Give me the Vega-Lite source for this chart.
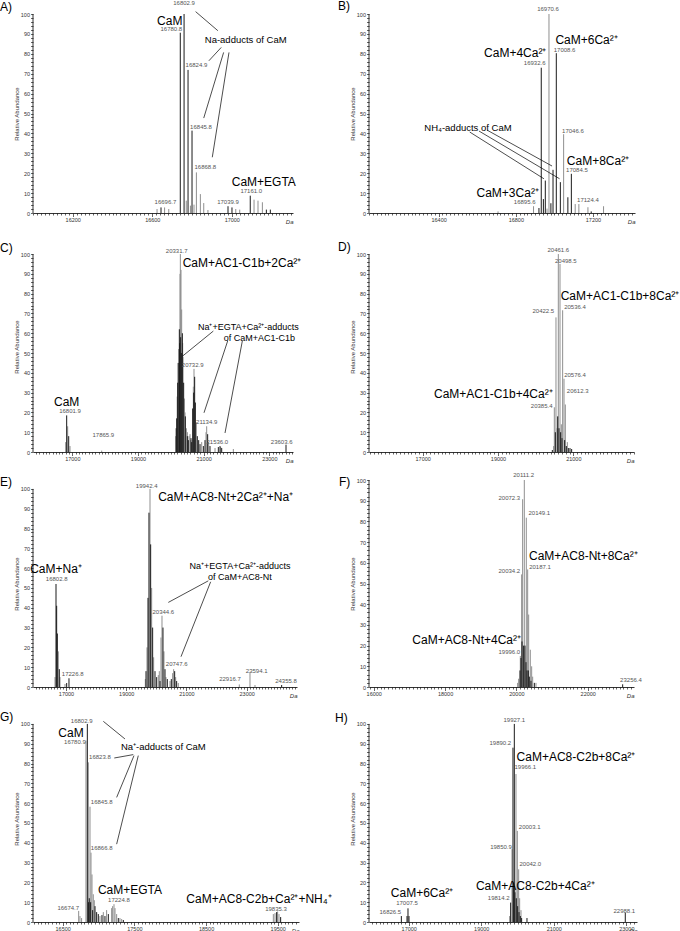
{
  "$schema": "https://vega.github.io/schema/vega-lite/v6.json",
  "padding": 0,
  "background": "white",
  "columns": 2,
  "bounds": "flush",
  "align": "each",
  "spacing": {"row": 28, "column": 70},
  "config": {
    "view": {"stroke": null},
    "axis": {"grid": false, "tickSize": 2.5, "labelFontSize": 5.5, "labelPadding": 1, "labelOverlap": false, "labelFlush": false, "labelColor": "#333", "labelFont": "Liberation Sans", "titleFont": "Liberation Sans", "titleFontSize": 6, "titleFontWeight": "normal", "titleColor": "#333", "tickColor": "#000", "tickWidth": 0.6, "domainColor": "#000", "domainWidth": 0.8},
    "axisY": {"titleX": -17, "titleBaseline": "middle", "domain": false, "tickCount": 50, "labelExpr": "datum.value % 10 === 0 && datum.value <= 100 ? datum.label : ''", "tickOpacity": {"condition": {"test": "datum.value > 100", "value": 0}, "value": 1}},
    "axisX": {"titleFontStyle": "italic", "titleAnchor": "end", "titleAlign": "right", "titleY": 8, "titleBaseline": "middle"},
    "text": {"font": "Liberation Sans"}
  },
  "concat": [
    {
      "width": 260, "height": 199,
      "layer": [
        {"data": {"values": [{"m":16624,"i":2.0,"s":"b"},{"m":16662,"i":2.8,"s":"b"},{"m":16683,"i":2.0,"s":"b"},{"m":16771,"i":6.2,"s":"b"},{"m":16792,"i":3.7,"s":"b"},{"m":16810,"i":4.2,"s":"b"},{"m":16822,"i":20.4,"s":"b"},{"m":16842,"i":9.5,"s":"b"},{"m":16859,"i":5.0,"s":"b"},{"m":16880,"i":1.5,"s":"b"},{"m":17020,"i":2.0,"s":"b"},{"m":17040,"i":1.7,"s":"b"},{"m":17112,"i":6.7,"s":"b"},{"m":17132,"i":6.2,"s":"b"},{"m":17154,"i":5.4,"s":"b"},{"m":16644,"i":2.8,"s":"a"},{"m":16741,"i":90.6,"s":"a"},{"m":16760,"i":100,"s":"a"},{"m":16780,"i":71.9,"s":"a"},{"m":16800,"i":41.4,"s":"a"},{"m":16981,"i":3.4,"s":"a"},{"m":17001,"i":2.8,"s":"a"},{"m":17093,"i":8.7,"s":"a"},{"m":17174,"i":1.7,"s":"a"},{"m":17194,"i":1.7,"s":"a"}]},
         "mark": {"type": "rule", "strokeWidth": 1},
         "encoding": {
           "x": {"field": "m", "type": "quantitative", "scale": {"domain": [16000, 17308], "nice": false, "zero": false},
                 "axis": {"title": "Da", "format": "d", "tickCount": 65, "labelExpr": "(datum.value - 16200) % 400 === 0 ? datum.label : ''", "tickSize": {"condition": {"test": "(datum.value - 16200) % 400 === 0", "value": 3.5}, "value": 2}}},
           "y": {"field": "i", "type": "quantitative", "scale": {"domain": [0, 100], "nice": false}, "axis": {"title": "Relative Abundance"}},
           "y2": {"datum": 0},
           "color": {"field": "s", "type": "nominal", "scale": {"domain": ["a", "b"], "range": ["#1a1a1a", "#8f8f8f"]}, "legend": null}
         }},
        {"data": {"values": [{}]}, "mark": {"type": "rule", "color": "#000", "strokeWidth": 0.8}, "encoding": {"x": {"datum": 16000, "type": "quantitative"}, "y": {"datum": 0, "type": "quantitative"}, "y2": {"datum": 100}}},
        {"data": {"values": [{"t": "A)"}]}, "mark": {"type": "text", "fontSize": 12, "align": "left", "baseline": "middle", "dx": -33, "color": "#000"}, "encoding": {"x": {"datum": 16000, "type": "quantitative"}, "y": {"datum": 103.5, "type": "quantitative"}, "text": {"field": "t"}}},
        {"data": {"values": [{"m":16760,"i":105.4,"t":"16802.9"},{"m":16696,"i":92.5,"t":"16780.8"},{"m":16822,"i":74.4,"t":"16824.9"},{"m":16845,"i":43.4,"t":"16845.8"},{"m":16867,"i":22.9,"t":"16868.8"},{"m":16666,"i":5.4,"t":"16696.7"},{"m":16981,"i":5.4,"t":"17039.9"},{"m":17098,"i":11.2,"t":"17161.0"}]},
         "mark": {"type": "text", "fontSize": 6, "color": "#555", "baseline": "middle"},
         "encoding": {"x": {"field": "m", "type": "quantitative"}, "y": {"field": "i", "type": "quantitative"}, "text": {"field": "t"}}},
        {"data": {"values": [{"m":16688,"i":96.6,"t":"CaM"},{"m":17161,"i":15.6,"t":"CaM+EGTA"}]},
         "mark": {"type": "text", "fontSize": 12, "color": "#000", "baseline": "middle"},
         "encoding": {"x": {"field": "m", "type": "quantitative"}, "y": {"field": "i", "type": "quantitative"}, "text": {"field": "t"}}},
        {"data": {"values": [{"m":17070,"i":86.9,"t":"Na-adducts of CaM"}]},
         "mark": {"type": "text", "fontSize": 9.5, "color": "#000", "baseline": "middle"},
         "encoding": {"x": {"field": "m", "type": "quantitative"}, "y": {"field": "i", "type": "quantitative"}, "text": {"field": "t"}}},
        {"data": {"values": [{"m":16818,"i":101.2,"m2":16930,"i2":91.6},{"m":16947,"i":83.2,"m2":16885,"i2":76.5},{"m":16959,"i":80.7,"m2":16859,"i2":47.7},{"m":16986,"i":80.7,"m2":16902,"i2":28}]},
         "mark": {"type": "rule", "color": "#000", "strokeWidth": 0.7},
         "encoding": {"x": {"field": "m", "type": "quantitative"}, "y": {"field": "i", "type": "quantitative"}, "x2": {"field": "m2"}, "y2": {"field": "i2"}}}
      ]
    },
    {
      "width": 266, "height": 199,
      "layer": [
        {"data": {"values": [{"m":16708,"i":0.8,"s":"b"},{"m":16892,"i":3.4,"s":"b"},{"m":16962,"i":2.2,"s":"b"},{"m":16972,"i":100,"s":"b"},{"m":17048,"i":39.6,"s":"b"},{"m":17108,"i":4.5,"s":"b"},{"m":17127,"i":4.5,"s":"b"},{"m":17174,"i":2.9,"s":"b"},{"m":17255,"i":3.4,"s":"b"},{"m":16920,"i":2.5,"s":"a"},{"m":16932,"i":73,"s":"a"},{"m":16943,"i":7,"s":"a"},{"m":16953,"i":16.3,"s":"a"},{"m":16982,"i":4.9,"s":"a"},{"m":16993,"i":21.7,"s":"a"},{"m":17010,"i":80.3,"s":"a"},{"m":17031,"i":15.5,"s":"a"},{"m":17070,"i":7.9,"s":"a"},{"m":17088,"i":19.7,"s":"a"},{"m":17191,"i":0.8,"s":"a"}]},
         "mark": {"type": "rule", "strokeWidth": 1},
         "encoding": {
           "x": {"field": "m", "type": "quantitative", "scale": {"domain": [16039, 17418], "nice": false, "zero": false},
                 "axis": {"title": "Da", "format": "d", "tickCount": 69, "labelExpr": "(datum.value - 16400) % 400 === 0 ? datum.label : ''", "tickSize": {"condition": {"test": "(datum.value - 16400) % 400 === 0", "value": 3.5}, "value": 2}}},
           "y": {"field": "i", "type": "quantitative", "scale": {"domain": [0, 100], "nice": false}, "axis": {"title": "Relative Abundance"}},
           "y2": {"datum": 0},
           "color": {"field": "s", "type": "nominal", "scale": {"domain": ["a", "b"], "range": ["#1a1a1a", "#8f8f8f"]}, "legend": null}
         }},
        {"data": {"values": [{}]}, "mark": {"type": "rule", "color": "#000", "strokeWidth": 0.8}, "encoding": {"x": {"datum": 16039, "type": "quantitative"}, "y": {"datum": 0, "type": "quantitative"}, "y2": {"datum": 100}}},
        {"data": {"values": [{"t": "B)"}]}, "mark": {"type": "text", "fontSize": 12, "align": "left", "baseline": "middle", "dx": -31, "color": "#000"}, "encoding": {"x": {"datum": 16039, "type": "quantitative"}, "y": {"datum": 104, "type": "quantitative"}, "text": {"field": "t"}}},
        {"data": {"values": [{"m":16967,"i":102.5,"t":"16970.6"},{"m":17053,"i":82,"t":"17008.6"},{"m":16898,"i":75.3,"t":"16932.6"},{"m":17096,"i":41.2,"t":"17046.6"},{"m":17117,"i":21.4,"t":"17084.5"},{"m":17174,"i":6.7,"t":"17124.4"},{"m":16846,"i":5.7,"t":"16895.6"}]},
         "mark": {"type": "text", "fontSize": 6, "color": "#555", "baseline": "middle"},
         "encoding": {"x": {"field": "m", "type": "quantitative"}, "y": {"field": "i", "type": "quantitative"}, "text": {"field": "t"}}},
        {"data": {"values": [{"m":17167,"i":87,"t":"CaM+6Ca²⁺"},{"m":16797,"i":80.3,"t":"CaM+4Ca²⁺"},{"m":17226,"i":25.9,"t":"CaM+8Ca²⁺"},{"m":16758,"i":9.9,"t":"CaM+3Ca²⁺"}]},
         "mark": {"type": "text", "fontSize": 12, "color": "#000", "baseline": "middle"},
         "encoding": {"x": {"field": "m", "type": "quantitative"}, "y": {"field": "i", "type": "quantitative"}, "text": {"field": "t"}}},
        {"data": {"values": [{"m":16552,"i":42.8,"t":"NH₄-adducts of CaM"}]},
         "mark": {"type": "text", "fontSize": 9.5, "color": "#000", "baseline": "middle"},
         "encoding": {"x": {"field": "m", "type": "quantitative"}, "y": {"field": "i", "type": "quantitative"}, "text": {"field": "t"}}},
        {"data": {"values": [{"m":16561,"i":40.7,"m2":16946,"i2":17.2},{"m":16609,"i":41.2,"m2":17027,"i2":17.2},{"m":16652,"i":41.6,"m2":16988,"i2":23.6}]},
         "mark": {"type": "rule", "color": "#000", "strokeWidth": 0.7},
         "encoding": {"x": {"field": "m", "type": "quantitative"}, "y": {"field": "i", "type": "quantitative"}, "x2": {"field": "m2"}, "y2": {"field": "i2"}}}
      ]
    },
    {
      "width": 260, "height": 211,
      "layer": [
        {"data": {"values": [{"m":16798,"i":5,"s":"b"},{"m":16859,"i":13,"s":"b"},{"m":16930,"i":3,"s":"b"},{"m":17895,"i":0.7,"s":"b"},{"m":20149,"i":8,"s":"b"},{"m":20195,"i":28,"s":"b"},{"m":20240,"i":52,"s":"b"},{"m":20281,"i":90,"s":"b"},{"m":20291,"i":100,"s":"b"},{"m":20311,"i":92,"s":"b"},{"m":20331,"i":72,"s":"b"},{"m":20362,"i":55,"s":"b"},{"m":20372,"i":48,"s":"b"},{"m":20413,"i":27,"s":"b"},{"m":20433,"i":20,"s":"b"},{"m":20474,"i":12,"s":"b"},{"m":20504,"i":10,"s":"b"},{"m":20555,"i":8,"s":"b"},{"m":20585,"i":9,"s":"b"},{"m":20605,"i":6,"s":"b"},{"m":20687,"i":33,"s":"b"},{"m":20707,"i":42,"s":"b"},{"m":20778,"i":15,"s":"b"},{"m":20941,"i":5,"s":"b"},{"m":21073,"i":10,"s":"b"},{"m":21093,"i":13,"s":"b"},{"m":21154,"i":5,"s":"b"},{"m":21347,"i":2,"s":"b"},{"m":21519,"i":2.5,"s":"b"},{"m":21905,"i":1.5,"s":"b"},{"m":16829,"i":18.5,"s":"a"},{"m":16890,"i":8,"s":"a"},{"m":20164,"i":12,"s":"a"},{"m":20179,"i":17,"s":"a"},{"m":20210,"i":35,"s":"a"},{"m":20225,"i":45,"s":"a"},{"m":20260,"i":62,"s":"a"},{"m":20270,"i":55,"s":"a"},{"m":20301,"i":58,"s":"a"},{"m":20321,"i":50,"s":"a"},{"m":20352,"i":60,"s":"a"},{"m":20392,"i":35,"s":"a"},{"m":20443,"i":18,"s":"a"},{"m":20504,"i":8,"s":"a"},{"m":20534,"i":6,"s":"a"},{"m":20615,"i":7,"s":"a"},{"m":20636,"i":5,"s":"a"},{"m":20666,"i":22,"s":"a"},{"m":20697,"i":30,"s":"a"},{"m":20727,"i":38,"s":"a"},{"m":20748,"i":25,"s":"a"},{"m":20808,"i":8,"s":"a"},{"m":20849,"i":6,"s":"a"},{"m":20890,"i":4,"s":"a"},{"m":20991,"i":3,"s":"a"},{"m":21042,"i":6,"s":"a"},{"m":21123,"i":9,"s":"a"},{"m":21194,"i":3,"s":"a"},{"m":21448,"i":2.5,"s":"a"},{"m":21499,"i":3,"s":"a"},{"m":21550,"i":2,"s":"a"},{"m":23509,"i":3.7,"s":"a"}]},
         "mark": {"type": "rule", "strokeWidth": 1},
         "encoding": {
           "x": {"field": "m", "type": "quantitative", "scale": {"domain": [15803, 23722], "nice": false, "zero": false},
                 "axis": {"title": "Da", "format": "d", "tickCount": 80, "labelExpr": "(datum.value - 17000) % 2000 === 0 ? datum.label : ''", "tickSize": {"condition": {"test": "(datum.value - 17000) % 2000 === 0", "value": 3.5}, "value": 2}}},
           "y": {"field": "i", "type": "quantitative", "scale": {"domain": [0, 106.6], "nice": false}, "axis": {"title": "Relative Abundance"}},
           "y2": {"datum": 0},
           "color": {"field": "s", "type": "nominal", "scale": {"domain": ["a", "b"], "range": ["#1a1a1a", "#8f8f8f"]}, "legend": null}
         }},
        {"data": {"values": [{}]}, "mark": {"type": "rule", "color": "#000", "strokeWidth": 0.8}, "encoding": {"x": {"datum": 15803, "type": "quantitative"}, "y": {"datum": 0, "type": "quantitative"}, "y2": {"datum": 100}}},
        {"data": {"values": [{"t": "C)"}]}, "mark": {"type": "text", "fontSize": 12, "align": "left", "baseline": "middle", "dx": -33, "color": "#000"}, "encoding": {"x": {"datum": 15803, "type": "quantitative"}, "y": {"datum": 103.1, "type": "quantitative"}, "text": {"field": "t"}}},
        {"data": {"values": [{"m":20179,"i":101.4,"t":"20331.7"},{"m":16930,"i":20.8,"t":"16801.9"},{"m":17945,"i":8.8,"t":"17865.9"},{"m":20666,"i":43.8,"t":"20732.9"},{"m":21093,"i":15,"t":"21134.9"},{"m":21418,"i":5,"t":"21536.0"},{"m":23377,"i":5,"t":"23603.6"}]},
         "mark": {"type": "text", "fontSize": 6, "color": "#555", "baseline": "middle"},
         "encoding": {"x": {"field": "m", "type": "quantitative"}, "y": {"field": "i", "type": "quantitative"}, "text": {"field": "t"}}},
        {"data": {"values": [{"m":22169,"i":95.4,"t":"CaM+AC1-C1b+2Ca²⁺"},{"m":16829,"i":25.5,"t":"CaM"}]},
         "mark": {"type": "text", "fontSize": 12, "color": "#000", "baseline": "middle"},
         "encoding": {"x": {"field": "m", "type": "quantitative"}, "y": {"field": "i", "type": "quantitative"}, "text": {"field": "t"}}},
        {"data": {"values": [{"m":22362,"i":63.2,"t":"Na⁺+EGTA+Ca²⁺-adducts"},{"m":22697,"i":57.4,"t":"of CaM+AC1-C1b"}]},
         "mark": {"type": "text", "fontSize": 9, "color": "#000", "baseline": "middle"},
         "encoding": {"x": {"field": "m", "type": "quantitative"}, "y": {"field": "i", "type": "quantitative"}, "text": {"field": "t"}}},
        {"data": {"values": [{"m":21296,"i":61.1,"m2":20362,"i2":48.5},{"m":21732,"i":56.1,"m2":21011,"i2":19.8},{"m":22179,"i":56.1,"m2":21651,"i2":9.6}]},
         "mark": {"type": "rule", "color": "#000", "strokeWidth": 0.7},
         "encoding": {"x": {"field": "m", "type": "quantitative"}, "y": {"field": "i", "type": "quantitative"}, "x2": {"field": "m2"}, "y2": {"field": "i2"}}}
      ]
    },
    {
      "width": 265, "height": 211,
      "layer": [
        {"data": {"values": [{"m":20478,"i":3,"s":"b"},{"m":20496,"i":22.6,"s":"b"},{"m":20540,"i":68,"s":"b"},{"m":20567,"i":12,"s":"b"},{"m":20602,"i":100,"s":"b"},{"m":20647,"i":95,"s":"b"},{"m":20682,"i":14,"s":"b"},{"m":20717,"i":71.6,"s":"b"},{"m":20753,"i":37,"s":"b"},{"m":20788,"i":24,"s":"b"},{"m":20841,"i":5,"s":"b"},{"m":20443,"i":1,"s":"a"},{"m":20523,"i":10,"s":"a"},{"m":20585,"i":18,"s":"a"},{"m":20620,"i":12,"s":"a"},{"m":20664,"i":10,"s":"a"},{"m":20700,"i":7,"s":"a"},{"m":20770,"i":6,"s":"a"},{"m":20815,"i":3,"s":"a"},{"m":20868,"i":2,"s":"a"},{"m":20912,"i":2,"s":"a"},{"m":20956,"i":1.5,"s":"a"}]},
         "mark": {"type": "rule", "strokeWidth": 1},
         "encoding": {
           "x": {"field": "m", "type": "quantitative", "scale": {"domain": [15574, 22612], "nice": false, "zero": false},
                 "axis": {"title": "Da", "format": "d", "tickCount": 70, "labelExpr": "(datum.value - 17000) % 2000 === 0 ? datum.label : ''", "tickSize": {"condition": {"test": "(datum.value - 17000) % 2000 === 0", "value": 3.5}, "value": 2}}},
           "y": {"field": "i", "type": "quantitative", "scale": {"domain": [0, 106.6], "nice": false}, "axis": {"title": "Relative Abundance"}},
           "y2": {"datum": 0},
           "color": {"field": "s", "type": "nominal", "scale": {"domain": ["a", "b"], "range": ["#1a1a1a", "#8f8f8f"]}, "legend": null}
         }},
        {"data": {"values": [{}]}, "mark": {"type": "rule", "color": "#000", "strokeWidth": 0.8}, "encoding": {"x": {"datum": 15574, "type": "quantitative"}, "y": {"datum": 0, "type": "quantitative"}, "y2": {"datum": 100}}},
        {"data": {"values": [{"t": "D)"}]}, "mark": {"type": "text", "fontSize": 12, "align": "left", "baseline": "middle", "dx": -31, "color": "#000"}, "encoding": {"x": {"datum": 15574, "type": "quantitative"}, "y": {"datum": 103.6, "type": "quantitative"}, "text": {"field": "t"}}},
        {"data": {"values": [{"m":20602,"i":102.2,"t":"20461.6"},{"m":20801,"i":96.6,"t":"20498.5"},{"m":20204,"i":71.1,"t":"20422.5"},{"m":21045,"i":73.3,"t":"20536.4"},{"m":21045,"i":38.8,"t":"20576.4"},{"m":21116,"i":30.6,"t":"20612.3"},{"m":20160,"i":23.1,"t":"20385.4"}]},
         "mark": {"type": "text", "fontSize": 6, "color": "#555", "baseline": "middle"},
         "encoding": {"x": {"field": "m", "type": "quantitative"}, "y": {"field": "i", "type": "quantitative"}, "text": {"field": "t"}}},
        {"data": {"values": [{"m":22240,"i":78.7,"t":"CaM+AC1-C1b+8Ca²⁺"},{"m":18876,"i":29.1,"t":"CaM+AC1-C1b+4Ca²⁺"}]},
         "mark": {"type": "text", "fontSize": 12, "color": "#000", "baseline": "middle"},
         "encoding": {"x": {"field": "m", "type": "quantitative"}, "y": {"field": "i", "type": "quantitative"}, "text": {"field": "t"}}}
      ]
    },
    {
      "width": 264, "height": 207,
      "layer": [
        {"data": {"values": [{"m":16635,"i":5,"s":"b"},{"m":16745,"i":18,"s":"b"},{"m":16801,"i":5,"s":"b"},{"m":16967,"i":1.5,"s":"b"},{"m":19635,"i":4,"s":"b"},{"m":19690,"i":20,"s":"b"},{"m":19790,"i":100,"s":"b"},{"m":19845,"i":50,"s":"b"},{"m":19911,"i":15,"s":"b"},{"m":20066,"i":6,"s":"b"},{"m":20099,"i":8,"s":"b"},{"m":20155,"i":25,"s":"b"},{"m":20188,"i":36,"s":"b"},{"m":20254,"i":18,"s":"b"},{"m":20321,"i":5,"s":"b"},{"m":20454,"i":3,"s":"b"},{"m":20542,"i":7,"s":"b"},{"m":20575,"i":9,"s":"b"},{"m":20642,"i":5,"s":"b"},{"m":20730,"i":2,"s":"b"},{"m":22756,"i":1.3,"s":"b"},{"m":23111,"i":7.6,"s":"b"},{"m":23277,"i":1,"s":"b"},{"m":16668,"i":52,"s":"a"},{"m":16690,"i":41,"s":"a"},{"m":16712,"i":27,"s":"a"},{"m":16778,"i":9,"s":"a"},{"m":17022,"i":2,"s":"a"},{"m":17099,"i":4.4,"s":"a"},{"m":19657,"i":8,"s":"a"},{"m":19723,"i":45,"s":"a"},{"m":19756,"i":88,"s":"a"},{"m":19812,"i":72,"s":"a"},{"m":19878,"i":30,"s":"a"},{"m":19956,"i":8,"s":"a"},{"m":20011,"i":5,"s":"a"},{"m":20122,"i":3,"s":"a"},{"m":20221,"i":30,"s":"a"},{"m":20288,"i":9,"s":"a"},{"m":20365,"i":4,"s":"a"},{"m":20498,"i":4,"s":"a"},{"m":20609,"i":8,"s":"a"},{"m":20675,"i":3,"s":"a"},{"m":24162,"i":1,"s":"a"}]},
         "mark": {"type": "rule", "strokeWidth": 1},
         "encoding": {
           "x": {"field": "m", "type": "quantitative", "scale": {"domain": [15904, 24672], "nice": false, "zero": false},
                 "axis": {"title": "Da", "format": "d", "tickCount": 88, "labelExpr": "(datum.value - 17000) % 2000 === 0 ? datum.label : ''", "tickSize": {"condition": {"test": "(datum.value - 17000) % 2000 === 0", "value": 3.5}, "value": 2}}},
           "y": {"field": "i", "type": "quantitative", "scale": {"domain": [0, 104.5], "nice": false}, "axis": {"title": "Relative Abundance"}},
           "y2": {"datum": 0},
           "color": {"field": "s", "type": "nominal", "scale": {"domain": ["a", "b"], "range": ["#1a1a1a", "#8f8f8f"]}, "legend": null}
         }},
        {"data": {"values": [{}]}, "mark": {"type": "rule", "color": "#000", "strokeWidth": 0.8}, "encoding": {"x": {"datum": 15904, "type": "quantitative"}, "y": {"datum": 0, "type": "quantitative"}, "y2": {"datum": 100}}},
        {"data": {"values": [{"t": "E)"}]}, "mark": {"type": "text", "fontSize": 12, "align": "left", "baseline": "middle", "dx": -33, "color": "#000"}, "encoding": {"x": {"datum": 15904, "type": "quantitative"}, "y": {"datum": 103.5, "type": "quantitative"}, "text": {"field": "t"}}},
        {"data": {"values": [{"m":19679,"i":101.3,"t":"19942.4"},{"m":16690,"i":54.5,"t":"16802.8"},{"m":17221,"i":6.4,"t":"17226.8"},{"m":20232,"i":38.1,"t":"20344.6"},{"m":20675,"i":11.5,"t":"20747.6"},{"m":22446,"i":3.9,"t":"22916.7"},{"m":23332,"i":8.1,"t":"23594.1"},{"m":24306,"i":3,"t":"24355.8"}]},
         "mark": {"type": "text", "fontSize": 6, "color": "#555", "baseline": "middle"},
         "encoding": {"x": {"field": "m", "type": "quantitative"}, "y": {"field": "i", "type": "quantitative"}, "text": {"field": "t"}}},
        {"data": {"values": [{"m":22303,"i":95.8,"t":"CaM+AC8-Nt+2Ca²⁺+Na⁺"},{"m":16668,"i":59.5,"t":"CaM+Na⁺"}]},
         "mark": {"type": "text", "fontSize": 12, "color": "#000", "baseline": "middle"},
         "encoding": {"x": {"field": "m", "type": "quantitative"}, "y": {"field": "i", "type": "quantitative"}, "text": {"field": "t"}}},
        {"data": {"values": [{"m":22778,"i":61.2,"t":"Na⁺+EGTA+Ca²⁺-adducts"},{"m":22778,"i":55.6,"t":"of CaM+AC8-Nt"}]},
         "mark": {"type": "text", "fontSize": 9, "color": "#000", "baseline": "middle"},
         "encoding": {"x": {"field": "m", "type": "quantitative"}, "y": {"field": "i", "type": "quantitative"}, "text": {"field": "t"}}},
        {"data": {"values": [{"m":21727,"i":53.6,"m2":20398,"i2":42.7},{"m":21804,"i":53.1,"m2":20819,"i2":15.3}]},
         "mark": {"type": "rule", "color": "#000", "strokeWidth": 0.7},
         "encoding": {"x": {"field": "m", "type": "quantitative"}, "y": {"field": "i", "type": "quantitative"}, "x2": {"field": "m2"}, "y2": {"field": "i2"}}}
      ]
    },
    {
      "width": 265, "height": 207,
      "layer": [
        {"data": {"values": [{"m":20035,"i":2,"s":"b"},{"m":20063,"i":4,"s":"b"},{"m":20110,"i":15,"s":"b"},{"m":20147,"i":54.4,"s":"b"},{"m":20175,"i":90.7,"s":"b"},{"m":20222,"i":100,"s":"b"},{"m":20278,"i":81.8,"s":"b"},{"m":20316,"i":56.8,"s":"b"},{"m":20344,"i":35,"s":"b"},{"m":20390,"i":18,"s":"b"},{"m":20428,"i":10,"s":"b"},{"m":20456,"i":5,"s":"b"},{"m":20549,"i":2,"s":"b"},{"m":20101,"i":8,"s":"a"},{"m":20129,"i":14,"s":"a"},{"m":20157,"i":22,"s":"a"},{"m":20203,"i":20,"s":"a"},{"m":20241,"i":20,"s":"a"},{"m":20269,"i":12,"s":"a"},{"m":20297,"i":8,"s":"a"},{"m":20334,"i":8,"s":"a"},{"m":20362,"i":5,"s":"a"},{"m":20409,"i":3,"s":"a"},{"m":20503,"i":2,"s":"a"},{"m":22979,"i":1.3,"s":"a"}]},
         "mark": {"type": "rule", "strokeWidth": 1},
         "encoding": {
           "x": {"field": "m", "type": "quantitative", "scale": {"domain": [15868, 23297], "nice": false, "zero": false},
                 "axis": {"title": "Da", "format": "d", "tickCount": 74, "labelExpr": "(datum.value - 16000) % 2000 === 0 ? datum.label : ''", "tickSize": {"condition": {"test": "(datum.value - 16000) % 2000 === 0", "value": 3.5}, "value": 2}}},
           "y": {"field": "i", "type": "quantitative", "scale": {"domain": [0, 100], "nice": false}, "axis": {"title": "Relative Abundance"}},
           "y2": {"datum": 0},
           "color": {"field": "s", "type": "nominal", "scale": {"domain": ["a", "b"], "range": ["#1a1a1a", "#8f8f8f"]}, "legend": null}
         }},
        {"data": {"values": [{}]}, "mark": {"type": "rule", "color": "#000", "strokeWidth": 0.8}, "encoding": {"x": {"datum": 15868, "type": "quantitative"}, "y": {"datum": 0, "type": "quantitative"}, "y2": {"datum": 100}}},
        {"data": {"values": [{"t": "F)"}]}, "mark": {"type": "text", "fontSize": 12, "align": "left", "baseline": "middle", "dx": -30, "color": "#000"}, "encoding": {"x": {"datum": 15868, "type": "quantitative"}, "y": {"datum": 99, "type": "quantitative"}, "text": {"field": "t"}}},
        {"data": {"values": [{"m":20204,"i":102.5,"t":"20111.2"},{"m":19802,"i":91.5,"t":"20072.3"},{"m":20643,"i":84.2,"t":"20149.1"},{"m":20661,"i":58.1,"t":"20187.1"},{"m":19802,"i":56,"t":"20034.2"},{"m":19802,"i":17.1,"t":"19996.0"},{"m":23212,"i":3.2,"t":"23256.4"}]},
         "mark": {"type": "text", "fontSize": 6, "color": "#555", "baseline": "middle"},
         "encoding": {"x": {"field": "m", "type": "quantitative"}, "y": {"field": "i", "type": "quantitative"}, "text": {"field": "t"}}},
        {"data": {"values": [{"m":21876,"i":63.3,"t":"CaM+AC8-Nt+8Ca²⁺"},{"m":18606,"i":22.7,"t":"CaM+AC8-Nt+4Ca²⁺"}]},
         "mark": {"type": "text", "fontSize": 12, "color": "#000", "baseline": "middle"},
         "encoding": {"x": {"field": "m", "type": "quantitative"}, "y": {"field": "i", "type": "quantitative"}, "text": {"field": "t"}}}
      ]
    },
    {
      "width": 266, "height": 207,
      "layer": [
        {"data": {"values": [{"m":16723,"i":5.6,"s":"b"},{"m":16741,"i":3,"s":"b"},{"m":16764,"i":2,"s":"b"},{"m":16825,"i":91.6,"s":"b"},{"m":16858,"i":80.6,"s":"b"},{"m":16881,"i":58.2,"s":"b"},{"m":16895,"i":35,"s":"b"},{"m":16909,"i":24,"s":"b"},{"m":16927,"i":14,"s":"b"},{"m":16941,"i":11,"s":"b"},{"m":17020,"i":3,"s":"b"},{"m":17067,"i":5,"s":"b"},{"m":17113,"i":6,"s":"b"},{"m":17183,"i":7,"s":"b"},{"m":17197,"i":8,"s":"b"},{"m":17216,"i":9,"s":"b"},{"m":17230,"i":7,"s":"b"},{"m":17253,"i":4,"s":"b"},{"m":17299,"i":2,"s":"b"},{"m":17323,"i":1.5,"s":"b"},{"m":19439,"i":4,"s":"b"},{"m":19462,"i":4.5,"s":"b"},{"m":19499,"i":5.3,"s":"b"},{"m":19518,"i":4,"s":"b"},{"m":16844,"i":100,"s":"a"},{"m":16862,"i":10,"s":"a"},{"m":16871,"i":12,"s":"a"},{"m":16890,"i":10,"s":"a"},{"m":16918,"i":6,"s":"a"},{"m":16951,"i":8,"s":"a"},{"m":16974,"i":5,"s":"a"},{"m":16997,"i":4,"s":"a"},{"m":17048,"i":3.5,"s":"a"},{"m":17090,"i":3,"s":"a"},{"m":17137,"i":4,"s":"a"},{"m":17276,"i":2,"s":"a"},{"m":17346,"i":1,"s":"a"},{"m":19485,"i":5,"s":"a"},{"m":19541,"i":2.5,"s":"a"}]},
         "mark": {"type": "rule", "strokeWidth": 1},
         "encoding": {
           "x": {"field": "m", "type": "quantitative", "scale": {"domain": [16086, 19797], "nice": false, "zero": false},
                 "axis": {"title": "Da", "format": "d", "tickCount": 74, "labelExpr": "(datum.value - 16500) % 1000 === 0 ? datum.label : ''", "tickSize": {"condition": {"test": "(datum.value - 16500) % 1000 === 0", "value": 3.5}, "value": 2}}},
           "y": {"field": "i", "type": "quantitative", "scale": {"domain": [0, 104.5], "nice": false}, "axis": {"title": "Relative Abundance"}},
           "y2": {"datum": 0},
           "color": {"field": "s", "type": "nominal", "scale": {"domain": ["a", "b"], "range": ["#1a1a1a", "#8f8f8f"]}, "legend": null}
         }},
        {"data": {"values": [{}]}, "mark": {"type": "rule", "color": "#000", "strokeWidth": 0.8}, "encoding": {"x": {"datum": 16086, "type": "quantitative"}, "y": {"datum": 0, "type": "quantitative"}, "y2": {"datum": 100}}},
        {"data": {"values": [{"t": "G)"}]}, "mark": {"type": "text", "fontSize": 12, "align": "left", "baseline": "middle", "dx": -33, "color": "#000"}, "encoding": {"x": {"datum": 16086, "type": "quantitative"}, "y": {"datum": 103.5, "type": "quantitative"}, "text": {"field": "t"}}},
        {"data": {"values": [{"m":16765,"i":101.7,"t":"16802.9"},{"m":16671,"i":90.7,"t":"16780.9"},{"m":17020,"i":83.1,"t":"16823.8"},{"m":17044,"i":60.4,"t":"16845.8"},{"m":17044,"i":37.6,"t":"16866.8"},{"m":16578,"i":6.9,"t":"16674.7"},{"m":17285,"i":11,"t":"17224.8"},{"m":19476,"i":6.4,"t":"19835.3"}]},
         "mark": {"type": "text", "fontSize": 6, "color": "#555", "baseline": "middle"},
         "encoding": {"x": {"field": "m", "type": "quantitative"}, "y": {"field": "i", "type": "quantitative"}, "text": {"field": "t"}}},
        {"data": {"values": [{"m":16616,"i":95.4,"t":"CaM"},{"m":17439,"i":16,"t":"CaM+EGTA"},{"m":19239,"i":11.5,"t":"CaM+AC8-C2b+Ca²⁺+NH₄⁺"}]},
         "mark": {"type": "text", "fontSize": 12, "color": "#000", "baseline": "middle"},
         "encoding": {"x": {"field": "m", "type": "quantitative"}, "y": {"field": "i", "type": "quantitative"}, "text": {"field": "t"}}},
        {"data": {"values": [{"m":17904,"i":88.2,"t":"Na⁺-adducts of CaM"}]},
         "mark": {"type": "text", "fontSize": 9.5, "color": "#000", "baseline": "middle"},
         "encoding": {"x": {"field": "m", "type": "quantitative"}, "y": {"field": "i", "type": "quantitative"}, "text": {"field": "t"}}},
        {"data": {"values": [{"m":17067,"i":101.3,"m2":17369,"i2":92.4},{"m":17220,"i":82.8,"m2":17485,"i2":84.5},{"m":17495,"i":84,"m2":17253,"i2":62.9},{"m":17555,"i":84,"m2":17253,"i2":39.3}]},
         "mark": {"type": "rule", "color": "#000", "strokeWidth": 0.7},
         "encoding": {"x": {"field": "m", "type": "quantitative"}, "y": {"field": "i", "type": "quantitative"}, "x2": {"field": "m2"}, "y2": {"field": "i2"}}}
      ]
    },
    {
      "width": 268, "height": 207,
      "layer": [
        {"data": {"values": [{"m":19783,"i":3,"s":"b"},{"m":19848,"i":36.8,"s":"b"},{"m":19958,"i":74.7,"s":"b"},{"m":19995,"i":46,"s":"b"},{"m":20032,"i":26.6,"s":"b"},{"m":20059,"i":12,"s":"b"},{"m":20096,"i":6,"s":"b"},{"m":16797,"i":3,"s":"a"},{"m":16953,"i":3,"s":"a"},{"m":16980,"i":6.9,"s":"a"},{"m":17008,"i":3,"s":"a"},{"m":19811,"i":9.8,"s":"a"},{"m":19875,"i":88,"s":"a"},{"m":19894,"i":20,"s":"a"},{"m":19912,"i":100,"s":"a"},{"m":19930,"i":15,"s":"a"},{"m":19967,"i":12,"s":"a"},{"m":20004,"i":8,"s":"a"},{"m":20041,"i":5,"s":"a"},{"m":20078,"i":3,"s":"a"},{"m":20114,"i":2,"s":"a"},{"m":20261,"i":2,"s":"a"},{"m":22972,"i":4.7,"s":"a"}]},
         "mark": {"type": "rule", "strokeWidth": 1},
         "encoding": {
           "x": {"field": "m", "type": "quantitative", "scale": {"domain": [15905, 23295], "nice": false, "zero": false},
                 "axis": {"title": "Da", "format": "d", "tickCount": 74, "labelExpr": "(datum.value - 17000) % 2000 === 0 ? datum.label : ''", "tickSize": {"condition": {"test": "(datum.value - 17000) % 2000 === 0", "value": 3.5}, "value": 2}}},
           "y": {"field": "i", "type": "quantitative", "scale": {"domain": [0, 104.5], "nice": false}, "axis": {"title": "Relative Abundance"}},
           "y2": {"datum": 0},
           "color": {"field": "s", "type": "nominal", "scale": {"domain": ["a", "b"], "range": ["#1a1a1a", "#8f8f8f"]}, "legend": null}
         }},
        {"data": {"values": [{}]}, "mark": {"type": "rule", "color": "#000", "strokeWidth": 0.8}, "encoding": {"x": {"datum": 15905, "type": "quantitative"}, "y": {"datum": 0, "type": "quantitative"}, "y2": {"datum": 100}}},
        {"data": {"values": [{"t": "H)"}]}, "mark": {"type": "text", "fontSize": 12, "align": "left", "baseline": "middle", "dx": -34, "color": "#000"}, "encoding": {"x": {"datum": 15905, "type": "quantitative"}, "y": {"datum": 103, "type": "quantitative"}, "text": {"field": "t"}}},
        {"data": {"values": [{"m":19912,"i":102,"t":"19927.1"},{"m":19526,"i":90.2,"t":"19890.2"},{"m":20215,"i":78.1,"t":"19966.1"},{"m":20335,"i":48.1,"t":"20003.1"},{"m":20353,"i":29.2,"t":"20042.0"},{"m":19544,"i":38.1,"t":"19850.9"},{"m":19480,"i":12,"t":"19814.2"},{"m":16953,"i":9.8,"t":"17007.5"},{"m":16493,"i":5.1,"t":"16826.5"},{"m":22945,"i":5.6,"t":"22988.1"}]},
         "mark": {"type": "text", "fontSize": 6, "color": "#555", "baseline": "middle"},
         "encoding": {"x": {"field": "m", "type": "quantitative"}, "y": {"field": "i", "type": "quantitative"}, "text": {"field": "t"}}},
        {"data": {"values": [{"m":21612,"i":83.1,"t":"CaM+AC8-C2b+8Ca²⁺"},{"m":20491,"i":18.2,"t":"CaM+AC8-C2b+4Ca²⁺"},{"m":17366,"i":14.5,"t":"CaM+6Ca²⁺"}]},
         "mark": {"type": "text", "fontSize": 12, "color": "#000", "baseline": "middle"},
         "encoding": {"x": {"field": "m", "type": "quantitative"}, "y": {"field": "i", "type": "quantitative"}, "text": {"field": "t"}}}
      ]
    }
  ]
}
